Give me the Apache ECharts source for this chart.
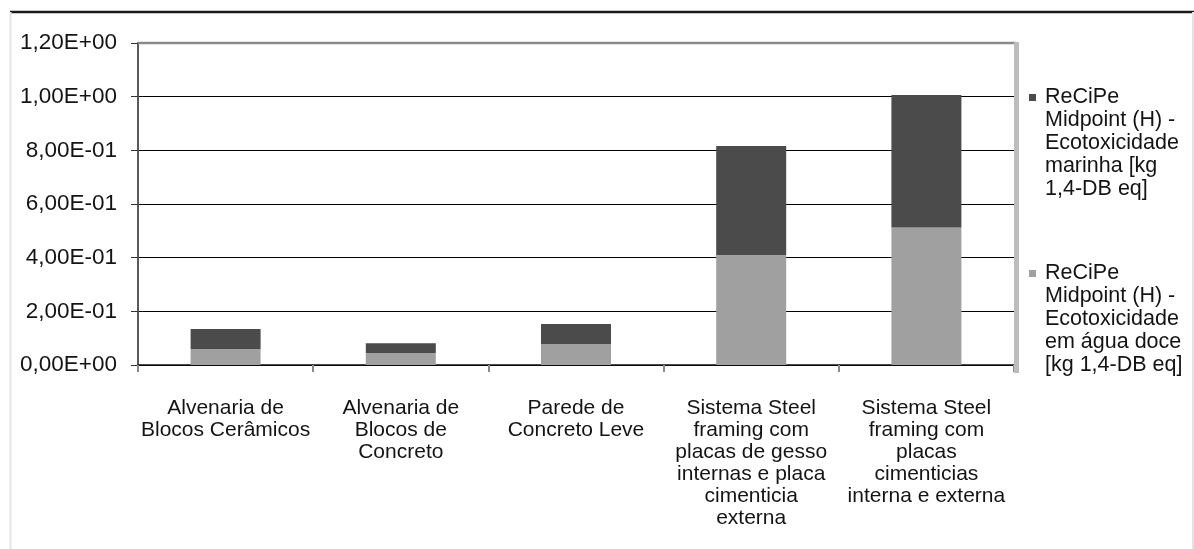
<!DOCTYPE html>
<html>
<head>
<meta charset="utf-8">
<script src="https://cdn.jsdelivr.net/npm/echarts@6/dist/echarts.min.js"></script>
<style>
html,body{margin:0;padding:0;background:#fff;}
#chart{width:1194px;height:549px;}
</style>
</head>
<body>
<div id="chart"></div>
<script>
var categories = [
  "Alvenaria de\nBlocos Cerâmicos",
  "Alvenaria de\nBlocos de\nConcreto",
  "Parede de\nConcreto Leve",
  "Sistema Steel\nframing com\nplacas de gesso\ninternas e placa\ncimenticia\nexterna",
  "Sistema Steel\nframing com\nplacas\ncimenticias\ninterna e externa"
];
var aguaDoce = [0.060, 0.045, 0.078, 0.410, 0.512];
var marinha  = [0.074, 0.036, 0.075, 0.406, 0.494];
var yTickLabels = ["0,00E+00", "2,00E-01", "4,00E-01", "6,00E-01", "8,00E-01", "1,00E+00", "1,20E+00"];
var seriesNames = [
  "ReCiPe Midpoint (H) - Ecotoxicidade em água doce [kg 1,4-DB eq]",
  "ReCiPe Midpoint (H) - Ecotoxicidade marinha [kg 1,4-DB eq]"
];
var legendLines = {};
legendLines[seriesNames[0]] = ["ReCiPe", "Midpoint (H) -", "Ecotoxicidade", "em água doce", "[kg 1,4-DB eq]"];
legendLines[seriesNames[1]] = ["ReCiPe", "Midpoint (H) -", "Ecotoxicidade", "marinha [kg", "1,4-DB eq]"];
var lightColor = "#a0a0a0";
var darkColor = "#4b4b4b";
var font = "'Liberation Sans', Arial, sans-serif";
var textColor = "#141414";

var chart = echarts.init(document.getElementById('chart'), null, {renderer: 'canvas'});
var option = {
  animation: false,
  backgroundColor: '#fff',
  grid: {left: 138, right: 180, top: 43, bottom: 184, containLabel: false},
  xAxis: {
    type: 'category',
    data: categories,
    axisLine: {show: true, lineStyle: {color: '#111', width: 1.5}},
    axisTick: {show: true, length: 7, alignWithLabel: false, lineStyle: {color: '#8a8a8a', width: 2}},
    axisLabel: {
      interval: 0, margin: 32, color: textColor, fontFamily: font, fontSize: 21, lineHeight: 22, align: 'center'
    },
    splitLine: {show: false}
  },
  yAxis: {
    type: 'value',
    min: 0, max: 1.2, interval: 0.2,
    axisLine: {show: true, lineStyle: {color: '#5a5a5a', width: 2}},
    axisTick: {show: true, length: 7, lineStyle: {color: '#333', width: 1}},
    axisLabel: {
      margin: 21, color: textColor, fontFamily: font, fontSize: 22.5,
      formatter: function (v) { return yTickLabels[Math.round(v / 0.2)]; }
    },
    splitLine: {show: true, lineStyle: {color: '#000', width: 1.2}}
  },
  legend: {
    orient: 'vertical',
    left: 1024, top: 86,
    padding: 0,
    itemGap: 61,
    itemWidth: 0, itemHeight: 0,
    icon: 'rect',
    selectedMode: false,
    data: [seriesNames[1], seriesNames[0]],
    formatter: function (name) {
      var lines = legendLines[name];
      var key = name === seriesNames[1] ? 'sqd' : 'sql';
      var out = '{' + key + '|}{g| }{t|' + lines[0] + '}';
      for (var i = 1; i < lines.length; i++) {
        out += '\n{ind| }{t|' + lines[i] + '}';
      }
      return out;
    },
    textStyle: {
      fontFamily: font, fontSize: 21.5, lineHeight: 23, color: textColor,
      rich: {
        sqd: {width: 7, height: 7, backgroundColor: darkColor},
        sql: {width: 7, height: 7, backgroundColor: lightColor},
        g: {width: 9, fontSize: 21.5, lineHeight: 23},
        ind: {width: 16, fontSize: 21.5, lineHeight: 23},
        t: {fontFamily: font, fontSize: 21.5, lineHeight: 23, color: textColor}
      }
    }
  },
  graphic: [
    {type: 'line', shape: {x1: 10, y1: 12, x2: 1194, y2: 12}, style: {stroke: '#1a1a1a', lineWidth: 2.5}, z: 100},
    {type: 'line', shape: {x1: 10.5, y1: 12, x2: 10.5, y2: 549}, style: {stroke: '#e4e4e4', lineWidth: 2}, z: 100},
    {type: 'line', shape: {x1: 1193, y1: 12, x2: 1193, y2: 549}, style: {stroke: '#e4e4e4', lineWidth: 2}, z: 100},
    {type: 'line', shape: {x1: 138, y1: 43, x2: 1016, y2: 43}, style: {stroke: '#8a8a8a', lineWidth: 2.5}, z: 100},
    {type: 'line', shape: {x1: 1016.5, y1: 42, x2: 1016.5, y2: 373}, style: {stroke: '#bdbdbd', lineWidth: 5}, z: 100}
  ],
  series: [
    {
      name: seriesNames[0], type: 'bar', stack: 'total', barWidth: 70,
      itemStyle: {color: lightColor},
      data: aguaDoce
    },
    {
      name: seriesNames[1], type: 'bar', stack: 'total', barWidth: 70,
      itemStyle: {color: darkColor},
      data: marinha
    }
  ]
};
chart.setOption(option);
</script>
</body>
</html>
